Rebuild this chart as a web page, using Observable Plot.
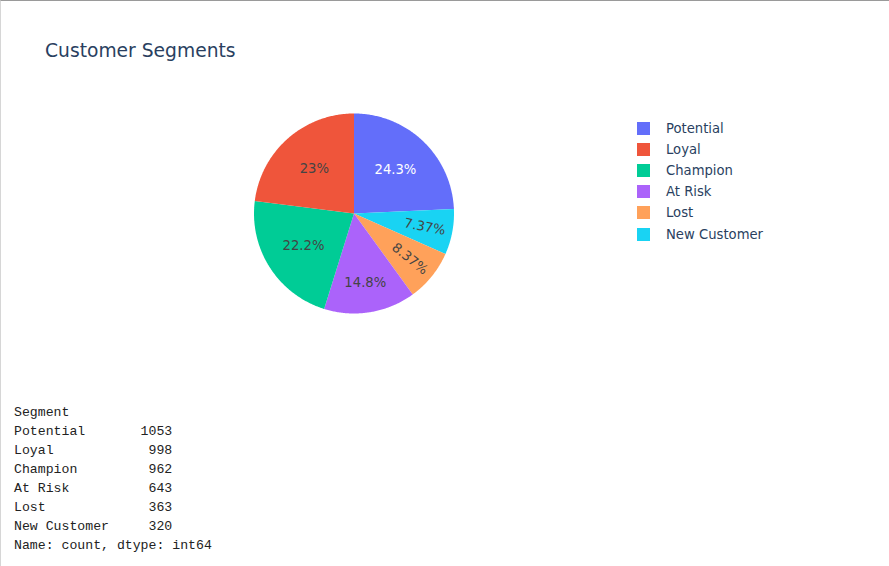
<!DOCTYPE html>
<html>
<head>
<meta charset="utf-8">
<script src="https://cdn.jsdelivr.net/npm/d3@7"></script>
<script src="https://cdn.jsdelivr.net/npm/@observablehq/plot@0.6"></script>
<style>
  html, body { margin: 0; padding: 0; background: #fff; }
  #page { position: relative; width: 889px; height: 566px; overflow: hidden; background: #fff;
          border-top: 1px solid #9a9a9a; border-left: 1px solid #d6d6d6; box-sizing: border-box; }
  #title { position: absolute; left: 44px; top: 39px; font-family: "DejaVu Sans", sans-serif;
           font-size: 18.7px; color: #2a3f5f; white-space: nowrap; }
  #chart { position: absolute; left: -1px; top: -1px; }
  #legend { position: absolute; left: 636px; top: 117px; font-family: "DejaVu Sans", sans-serif;
            font-size: 13.2px; color: #2a3f5f; }
  .row { height: 21.1px; display: flex; align-items: center; white-space: nowrap; }
  .sw { width: 13px; height: 13px; margin-right: 16px; }
  #out { position: absolute; left: 13px; top: 402px; margin: 0; font-family: "Liberation Mono", "DejaVu Sans Mono", monospace;
         font-size: 13.2px; line-height: 19px; color: #222; }
</style>
</head>
<body>
<div id="page">
  <div id="title"></div>
  <div id="chart"></div>
  <div id="legend"></div>
  <pre id="out"></pre>
</div>
<script>
// Data
const segments = ["Potential", "Loyal", "Champion", "At Risk", "Lost", "New Customer"];
const counts = [1053, 998, 962, 643, 363, 320];
const colors = ["#636efa", "#EF553B", "#00cc96", "#ab63fa", "#FFA15A", "#19d3f3"];
// Clockwise drawing order from 12 o'clock as in the reference
const drawOrder = ["Potential", "New Customer", "Lost", "At Risk", "Champion", "Loyal"];
const titleText = "Customer Segments";

document.getElementById("title").textContent = titleText;

const total = d3.sum(counts);
const rows = drawOrder.map(s => ({segment: s, count: counts[segments.indexOf(s)]}));
let acc = 0;
rows.forEach(r => { r.a0 = acc / total * 2 * Math.PI; acc += r.count; r.a1 = acc / total * 2 * Math.PI; r.share = r.count / total; });

// Polygon points for each slice (unit radius, angle clockwise from top)
const poly = [];
rows.forEach(r => {
  poly.push({segment: r.segment, x: 0, y: 0});
  const n = Math.max(2, Math.ceil((r.a1 - r.a0) / 0.01));
  for (let i = 0; i <= n; i++) {
    const a = r.a0 + (r.a1 - r.a0) * i / n;
    poly.push({segment: r.segment, x: Math.sin(a), y: Math.cos(a)});
  }
});

const fmt = v => {
  const p = v * 100;
  return (+p.toPrecision(3)).toString() + "%";
};
const labels = rows.map(r => {
  const m = (r.a0 + r.a1) / 2;
  const rr = r.share < 0.1 ? 0.72 : (r.share < 0.2 ? 0.7 : 0.6);
  return {
    segment: r.segment,
    text: fmt(r.share),
    x: rr * Math.sin(m), y: rr * Math.cos(m),
    rotate: r.share < 0.1 ? (m * 180 / Math.PI - 90) : 0,
    dark: r.segment === "Potential"
  };
});

const R = 100; // px per unit
const W = 889, H = 400;
const cx = 353.5, cy = 213;
const plot = Plot.plot({
  width: W, height: H,
  margin: 0,
  x: {domain: [-cx / R, (W - cx) / R], range: [0, W], axis: null},
  y: {domain: [-(H - cy) / R, cy / R], range: [H, 0], axis: null},
  color: {domain: segments, range: colors},
  marks: [
    Plot.line(poly, {x: "x", y: "y", z: "segment", fill: "segment", stroke: "none", curve: "linear-closed"}),
    Plot.text(labels, {x: "x", y: "y", text: "text", rotate: "rotate",
      fill: d => d.dark ? "#ffffff" : "#444444",
      fontSize: 13.2, fontFamily: "DejaVu Sans, sans-serif"})
  ]
});
document.getElementById("chart").appendChild(plot);

// Legend
const leg = document.getElementById("legend");
segments.forEach((s, i) => {
  const row = document.createElement("div");
  row.className = "row";
  const sw = document.createElement("div");
  sw.className = "sw";
  sw.style.background = colors[i];
  row.appendChild(sw);
  row.appendChild(document.createTextNode(s));
  leg.appendChild(row);
});

// Printed series output
const w = d3.max(segments, s => s.length);
const lines = ["Segment"];
segments.forEach((s, i) => lines.push(s.padEnd(w) + String(counts[i]).padStart(8)));
lines.push("Name: count, dtype: int64");
document.getElementById("out").textContent = lines.join("\n");
</script>
</body>
</html>
